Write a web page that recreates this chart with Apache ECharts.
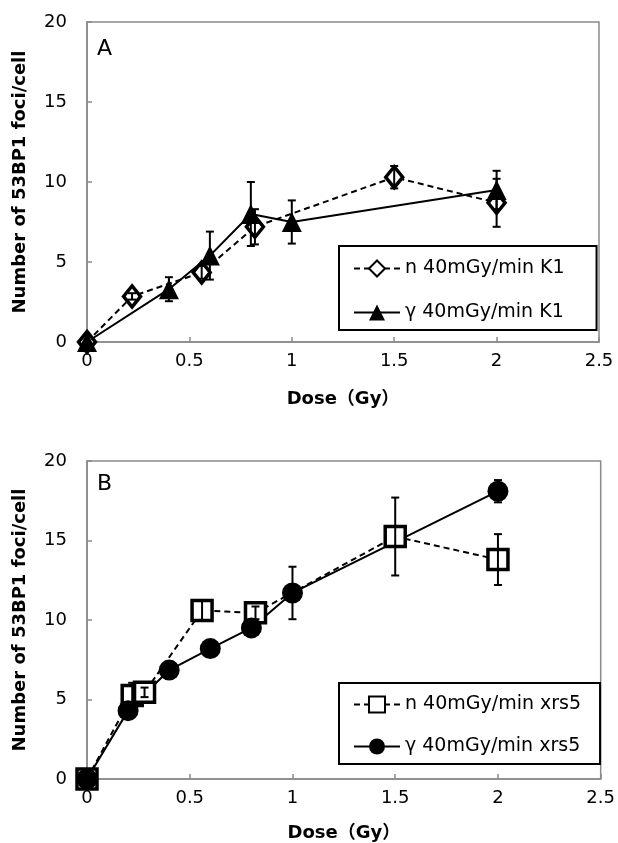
<!DOCTYPE html>
<html>
<head>
<meta charset="utf-8">
<script src="https://cdn.jsdelivr.net/npm/echarts@6/dist/echarts.min.js"></script>
<style>
  html, body { margin: 0; padding: 0; background: #fff; }
  #main { width: 618px; height: 843px; }
</style>
</head>
<body>
<div id="main"></div>
<script>
// panel A: K1 cells
const doseA_n = [0, 0.22, 0.56, 0.82, 1.5, 2];
const fociA_n = [0, 2.85, 4.35, 7.2, 10.3, 8.7];
const errA_n = [0, 0.2, 0.4, 1.1, 0.7, 1.5];
const doseA_g = [0, 0.4, 0.6, 0.8, 1.0, 2];
const fociA_g = [0, 3.3, 5.4, 8.0, 7.5, 9.5];
const errA_g = [0, 0.75, 1.5, 2.0, 1.35, 1.2];

// panel B: xrs5 cells
const doseB_n = [0, 0.22, 0.28, 0.56, 0.82, 1.5, 2];
const fociB_n = [0, 5.25, 5.45, 10.6, 10.45, 15.25, 13.8];
const errB_n = [0, 0.8, 0.3, 0.6, 0.4, 2.45, 1.6];
const doseB_g = [0, 0.2, 0.4, 0.6, 0.8, 1.0, 2];
const fociB_g = [0, 4.3, 6.85, 8.2, 9.5, 11.7, 18.1];
const errB_g = [0, 0.3, 0.3, 0.3, 0.5, 1.65, 0.7];

const names = {
  nA: 'n 40mGy/min K1',
  gA: 'γ 40mGy/min K1',
  nB: 'n 40mGy/min xrs5',
  gB: 'γ 40mGy/min xrs5'
};

const FONT = 'DejaVu Sans, Noto Sans CJK JP, sans-serif';

function pairs(xs, ys) {
  return xs.map((x, i) => [x, ys[i]]);
}
function errData(xs, ys, es) {
  const out = [];
  xs.forEach((x, i) => {
    if (es[i] > 0) out.push([x, ys[i] - es[i], ys[i] + es[i]]);
  });
  return out;
}

function renderErr(params, api) {
  const x = api.value(0);
  const lo = api.coord([x, api.value(1)]);
  const hi = api.coord([x, api.value(2)]);
  const w = 4;
  const style = { stroke: '#000', lineWidth: 2 };
  return {
    type: 'group',
    children: [
      { type: 'line', shape: { x1: lo[0], y1: lo[1], x2: hi[0], y2: hi[1] }, style: style },
      { type: 'line', shape: { x1: lo[0] - w, y1: lo[1], x2: lo[0] + w, y2: lo[1] }, style: style },
      { type: 'line', shape: { x1: hi[0] - w, y1: hi[1], x2: hi[0] + w, y2: hi[1] }, style: style }
    ]
  };
}

function xAxis(gridIndex, gap) {
  return {
    gridIndex: gridIndex,
    type: 'value',
    min: 0, max: 2.5, interval: 0.5,
    name: 'Dose（Gy）',
    nameLocation: 'middle',
    nameGap: gap,
    nameTextStyle: { color: '#000', fontFamily: FONT, fontSize: 18, fontWeight: 'bold' },
    axisLine: { lineStyle: { color: '#8a8a8a', width: 1.5 } },
    axisTick: { inside: true, length: 5, lineStyle: { color: '#8a8a8a', width: 1.5 } },
    axisLabel: { color: '#000', fontFamily: FONT, fontSize: 18, margin: 10 },
    splitLine: { show: false }
  };
}
function yAxis(gridIndex) {
  return {
    gridIndex: gridIndex,
    type: 'value',
    min: 0, max: 20, interval: 5,
    name: 'Number of 53BP1 foci/cell',
    nameLocation: 'middle',
    nameGap: 58,
    nameTextStyle: { color: '#000', fontFamily: FONT, fontSize: 18, fontWeight: 'bold' },
    axisLine: { lineStyle: { color: '#8a8a8a', width: 1.5 } },
    axisTick: { inside: true, length: 5, lineStyle: { color: '#8a8a8a', width: 1.5 } },
    axisLabel: { color: '#000', fontFamily: FONT, fontSize: 18, margin: 20 },
    splitLine: { show: false }
  };
}

function lineSeries(name, idx, data, symbol, size, fill, dashed) {
  return {
    name: name,
    type: 'line',
    xAxisIndex: idx, yAxisIndex: idx,
    data: data,
    symbol: symbol,
    symbolSize: size,
    showSymbol: true,
    lineStyle: { color: '#000', width: 2, type: dashed ? [6, 4] : 'solid' },
    itemStyle: { color: fill, borderColor: '#000', borderWidth: fill === '#000' ? 0 : 3.5 },
    emphasis: { disabled: true },
    z: 2
  };
}
function errSeries(idx, data) {
  return {
    type: 'custom',
    xAxisIndex: idx, yAxisIndex: idx,
    data: data,
    renderItem: renderErr,
    z: 3
  };
}

function legend(dataNames, top, pad, gap) {
  return {
    data: dataNames,
    orient: 'vertical',
    left: 339,
    top: top,
    itemWidth: 46,
    itemHeight: 20,
    itemGap: gap,
    padding: pad,
    backgroundColor: '#fff',
    borderColor: '#000',
    borderWidth: 2,
    borderRadius: 0,
    selectedMode: false,
    textStyle: { color: '#000', fontFamily: FONT, fontSize: 19 }
  };
}

const chart = echarts.init(document.getElementById('main'), null, { renderer: 'canvas' });

chart.setOption({
  backgroundColor: '#fff',
  animation: false,
  grid: [
    { left: 87, top: 22, right: 19, bottom: 501, show: true, borderColor: '#8a8a8a', borderWidth: 1.5 },
    { left: 87, top: 461, right: 15, bottom: 60, show: true, borderColor: '#8a8a8a', borderWidth: 1.5 }
  ],
  xAxis: [xAxis(0, 48), xAxis(1, 45)],
  yAxis: [yAxis(0), yAxis(1)],
  legend: [
    legend([names.nA, names.gA], 246, [13, 32, 8, 14], 25),
    legend([names.nB, names.gB], 683, [12, 19, 8, 14], 23)
  ],
  graphic: [
    { type: 'text', left: 97, top: 38, style: { text: 'A', font: '22px ' + FONT, fill: '#000' } },
    { type: 'text', left: 97, top: 473, style: { text: 'B', font: '22px ' + FONT, fill: '#000' } }
  ],
  series: [
    lineSeries(names.nA, 0, pairs(doseA_n, fociA_n), 'diamond', [17, 21], '#fff', true),
    lineSeries(names.gA, 0, pairs(doseA_g, fociA_g), 'triangle', 20, '#000', false),
    errSeries(0, errData(doseA_n, fociA_n, errA_n)),
    errSeries(0, errData(doseA_g, fociA_g, errA_g)),
    lineSeries(names.nB, 1, pairs(doseB_n, fociB_n), 'rect', 20, '#fff', true),
    lineSeries(names.gB, 1, pairs(doseB_g, fociB_g), 'circle', 21, '#000', false),
    errSeries(1, errData(doseB_n, fociB_n, errB_n)),
    errSeries(1, errData(doseB_g, fociB_g, errB_g))
  ]
});
</script>
</body>
</html>
